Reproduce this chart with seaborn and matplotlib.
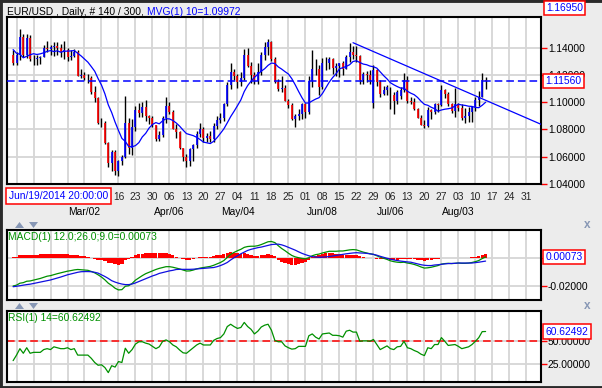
import numpy as np
import pandas as pd
import seaborn as sns
import matplotlib
matplotlib.use("Agg")
from matplotlib import pyplot as plt
from matplotlib import transforms
from matplotlib.patches import Polygon
from matplotlib.ticker import FormatStrFormatter

sns.set_style("white")
plt.rcParams['font.family'] = ['Liberation Sans', 'DejaVu Sans']

# ---- data (EUR/USD daily, 140 bars from Jan 30) ----
open_px = [
    1.1345, 1.1290, 1.1345, 1.1480, 1.1345, 1.1475, 1.1315, 1.1320, 1.1325, 1.1335,
    1.1400, 1.1390, 1.1405, 1.1410, 1.1400, 1.1370, 1.1385, 1.1330, 1.1340, 1.1365,
    1.1195, 1.1198, 1.1180, 1.1175, 1.1075, 1.1030, 1.0845, 1.0850, 1.0700, 1.0550,
    1.0630, 1.0495, 1.0565, 1.0595, 1.0850, 1.0660, 1.0820, 1.0940, 1.0920, 1.0965,
    1.0895, 1.0885, 1.0830, 1.0730, 1.0760, 1.0885, 1.0970, 1.0925, 1.0805, 1.0780,
    1.0660, 1.0600, 1.0570, 1.0655, 1.0685, 1.0765, 1.0805, 1.0735, 1.0750, 1.0730,
    1.0825, 1.0870, 1.0885, 1.0985, 1.1125, 1.1225, 1.1195, 1.1145, 1.1180, 1.1345,
    1.1265, 1.1200, 1.1155, 1.1220, 1.1345, 1.1405, 1.1445, 1.1315, 1.1145, 1.1095,
    1.1105, 1.1010, 1.0980, 1.0875, 1.0895, 1.0915, 1.0985, 1.0925, 1.1155, 1.1245,
    1.1240, 1.1110, 1.1290, 1.1285, 1.1320, 1.1250, 1.1265, 1.1285, 1.1245, 1.1335,
    1.1365, 1.1350, 1.1340, 1.1160, 1.1205, 1.1200, 1.0990, 1.1235, 1.1145, 1.1060,
    1.1090, 1.1050, 1.1055, 1.1010, 1.1045, 1.1090, 1.1160, 1.1005, 1.1002, 1.0950,
    1.0885, 1.0835, 1.0825, 1.0940, 1.0930, 1.0985, 1.0980, 1.1090, 1.1060, 1.0985,
    1.0935, 1.0985, 1.0955, 1.0885, 1.0900, 1.0925, 1.0965, 1.1015, 1.1040, 1.1165,
]
high_px = [
    1.1385, 1.1365, 1.1535, 1.1500, 1.1500, 1.1490, 1.1345, 1.1345, 1.1340, 1.1420,
    1.1450, 1.1420, 1.1440, 1.1445, 1.1430, 1.1450, 1.1400, 1.1385, 1.1390, 1.1380,
    1.1240, 1.1225, 1.1210, 1.1190, 1.1115, 1.1040, 1.0880, 1.0860, 1.0710, 1.0650,
    1.0645, 1.0575, 1.0610, 1.1045, 1.0880, 1.0875, 1.0975, 1.0990, 1.1000, 1.1015,
    1.0905, 1.0900, 1.0835, 1.0790, 1.0895, 1.1035, 1.1000, 1.0945, 1.0840, 1.0785,
    1.0665, 1.0615, 1.0665, 1.0690, 1.0790, 1.0850, 1.0815, 1.0775, 1.0785, 1.0845,
    1.0895, 1.0920, 1.0990, 1.1145, 1.1290, 1.1240, 1.1205, 1.1220, 1.1390, 1.1395,
    1.1295, 1.1220, 1.1285, 1.1365, 1.1445, 1.1465, 1.1450, 1.1330, 1.1170, 1.1195,
    1.1125, 1.1020, 1.0990, 1.0910, 1.0950, 1.0990, 1.0995, 1.1195, 1.1380, 1.1315,
    1.1275, 1.1325, 1.1335, 1.1330, 1.1325, 1.1285, 1.1290, 1.1305, 1.1350, 1.1435,
    1.1410, 1.1410, 1.1345, 1.1225, 1.1230, 1.1235, 1.1275, 1.1240, 1.1165, 1.1120,
    1.1125, 1.1110, 1.1075, 1.1090, 1.1110, 1.1215, 1.1195, 1.1035, 1.1030, 1.0960,
    1.0905, 1.0865, 1.0965, 1.0950, 1.0990, 1.0990, 1.1125, 1.1095, 1.1075, 1.0995,
    1.1105, 1.0990, 1.0985, 1.0955, 1.0965, 1.0975, 1.1040, 1.1085, 1.1215, 1.1185,
]
low_px = [
    1.1275, 1.1270, 1.1310, 1.1330, 1.1325, 1.1300, 1.1270, 1.1270, 1.1280, 1.1330,
    1.1370, 1.1350, 1.1340, 1.1350, 1.1335, 1.1315, 1.1300, 1.1310, 1.1330, 1.1190,
    1.1175, 1.1160, 1.1140, 1.1060, 1.1000, 1.0840, 1.0820, 1.0695, 1.0525, 1.0495,
    1.0465, 1.0460, 1.0535, 1.0590, 1.0615, 1.0610, 1.0790, 1.0890, 1.0890, 1.0860,
    1.0840, 1.0815, 1.0715, 1.0715, 1.0745, 1.0850, 1.0910, 1.0800, 1.0735, 1.0655,
    1.0570, 1.0520, 1.0530, 1.0570, 1.0665, 1.0740, 1.0710, 1.0705, 1.0705, 1.0705,
    1.0805, 1.0845, 1.0860, 1.0975, 1.1095, 1.1165, 1.1105, 1.1115, 1.1165, 1.1260,
    1.1140, 1.1135, 1.1130, 1.1200, 1.1310, 1.1345, 1.1305, 1.1140, 1.1080, 1.1075,
    1.1005, 1.0960, 1.0870, 1.0820, 1.0870, 1.0875, 1.0885, 1.0915, 1.1110, 1.1200,
    1.1050, 1.1100, 1.1235, 1.1240, 1.1210, 1.1195, 1.1185, 1.1200, 1.1240, 1.1295,
    1.1320, 1.1295, 1.1135, 1.1135, 1.1145, 1.1135, 1.0955, 1.1120, 1.1035, 1.1050,
    1.1055, 1.0950, 1.0915, 1.0985, 1.1020, 1.1075, 1.0995, 1.0985, 1.0945, 1.0880,
    1.0830, 1.0810, 1.0815, 1.0875, 1.0910, 1.0925, 1.0975, 1.1030, 1.0975, 1.0920,
    1.0890, 1.0935, 1.0870, 1.0850, 1.0855, 1.0855, 1.0935, 1.0975, 1.1035, 1.1095,
]
close_px = [
    1.1290, 1.1345, 1.1480, 1.1345, 1.1475, 1.1315, 1.1320, 1.1325, 1.1335, 1.1400,
    1.1390, 1.1405, 1.1410, 1.1400, 1.1370, 1.1385, 1.1330, 1.1340, 1.1365, 1.1195,
    1.1198, 1.1180, 1.1175, 1.1075, 1.1030, 1.0845, 1.0850, 1.0700, 1.0550, 1.0630,
    1.0495, 1.0565, 1.0595, 1.0850, 1.0660, 1.0820, 1.0940, 1.0920, 1.0965, 1.0895,
    1.0885, 1.0830, 1.0730, 1.0760, 1.0885, 1.0970, 1.0925, 1.0805, 1.0780, 1.0660,
    1.0600, 1.0570, 1.0655, 1.0685, 1.0765, 1.0805, 1.0735, 1.0750, 1.0730, 1.0825,
    1.0870, 1.0885, 1.0985, 1.1125, 1.1225, 1.1195, 1.1145, 1.1180, 1.1345, 1.1265,
    1.1200, 1.1155, 1.1220, 1.1345, 1.1405, 1.1445, 1.1315, 1.1145, 1.1095, 1.1105,
    1.1010, 1.0980, 1.0875, 1.0895, 1.0915, 1.0985, 1.0925, 1.1155, 1.1245, 1.1240,
    1.1110, 1.1290, 1.1285, 1.1320, 1.1250, 1.1265, 1.1285, 1.1245, 1.1335, 1.1365,
    1.1350, 1.1340, 1.1160, 1.1205, 1.1200, 1.1165, 1.1235, 1.1145, 1.1060, 1.1090,
    1.1110, 1.1055, 1.1010, 1.1075, 1.1090, 1.1160, 1.1005, 1.1002, 1.0950, 1.0885,
    1.0835, 1.0825, 1.0940, 1.0930, 1.0985, 1.0980, 1.1090, 1.1060, 1.0985, 1.0935,
    1.0985, 1.0955, 1.0885, 1.0900, 1.0925, 1.0965, 1.1015, 1.1040, 1.1165, 1.1156,
]
# closes of the 9 sessions before the window (feed the 10-bar average)
warmup_close = [1.1620, 1.1545, 1.1610, 1.1365, 1.1205, 1.1240, 1.1380, 1.1290, 1.1320]

macd_line = [
    -0.0200, -0.0194, -0.0180, -0.0176, -0.0166, -0.0164, -0.0158, -0.0152, -0.0146, -0.0138,
    -0.0130, -0.0126, -0.0119, -0.0112, -0.0106, -0.0100, -0.0094, -0.0090, -0.0085, -0.0082,
    -0.0084, -0.0086, -0.0088, -0.0096, -0.0106, -0.0120, -0.0136, -0.0156, -0.0180, -0.0196,
    -0.0216, -0.0228, -0.0226, -0.0202, -0.0198, -0.0182, -0.0158, -0.0142, -0.0126, -0.0112,
    -0.0102, -0.0092, -0.0082, -0.0074, -0.0068, -0.0062, -0.0062, -0.0066, -0.0072, -0.0078,
    -0.0086, -0.0093, -0.0092, -0.0086, -0.0078, -0.0072, -0.0068, -0.0064, -0.0060, -0.0052,
    -0.0042, -0.0032, -0.0018, 0.0004, 0.0026, 0.0040, 0.0052, 0.0062, 0.0076, 0.0082,
    0.0084, 0.0084, 0.0088, 0.0096, 0.0106, 0.0116, 0.0118, 0.0110, 0.0088, 0.0068,
    0.0052, 0.0034, 0.0018, 0.0008, 0.0002, -0.0003, -0.0006, 0.0002, 0.0016, 0.0024,
    0.0028, 0.0036, 0.0042, 0.0048, 0.0048, 0.0048, 0.0050, 0.0050, 0.0054, 0.0058,
    0.0060, 0.0058, 0.0050, 0.0042, 0.0036, 0.0030, 0.0026, 0.0016, 0.0006, -0.0002,
    -0.0010, -0.0020, -0.0026, -0.0030, -0.0032, -0.0030, -0.0036, -0.0040, -0.0046, -0.0054,
    -0.0064, -0.0072, -0.0070, -0.0066, -0.0060, -0.0054, -0.0044, -0.0040, -0.0038, -0.0040,
    -0.0038, -0.0036, -0.0038, -0.0038, -0.0036, -0.0032, -0.0026, -0.0018, -0.0004, 0.00073,
]
signal_line = [
    -0.0205, -0.0202, -0.0198, -0.0194, -0.0190, -0.0187, -0.0182, -0.0177, -0.0172, -0.0167,
    -0.0162, -0.0157, -0.0150, -0.0143, -0.0136, -0.0128, -0.0120, -0.0114, -0.0108, -0.0102,
    -0.0098, -0.0097, -0.0097, -0.0098, -0.0102, -0.0108, -0.0120, -0.0132, -0.0146, -0.0162,
    -0.0172, -0.0180, -0.0186, -0.0190, -0.0190, -0.0186, -0.0178, -0.0168, -0.0158, -0.0148,
    -0.0138, -0.0128, -0.0120, -0.0110, -0.0104, -0.0098, -0.0092, -0.0088, -0.0082, -0.0081,
    -0.0081, -0.0081, -0.0081, -0.0080, -0.0078, -0.0076, -0.0074, -0.0072, -0.0070, -0.0068,
    -0.0062, -0.0054, -0.0044, -0.0032, -0.0014, 0.0002, 0.0016, 0.0030, 0.0042, 0.0054,
    0.0062, 0.0068, 0.0074, 0.0078, 0.0084, 0.0090, 0.0096, 0.0098, 0.0099, 0.0094,
    0.0086, 0.0076, 0.0066, 0.0056, 0.0044, 0.0033, 0.0024, 0.0016, 0.0010, 0.0007,
    0.0005, 0.0006, 0.0008, 0.0010, 0.0014, 0.0018, 0.0022, 0.0026, 0.0030, 0.0033,
    0.0036, 0.0038, 0.0036, 0.0035, 0.0033, 0.0030, 0.0026, 0.0020, 0.0012, 0.0005,
    -0.0002, -0.0008, -0.0014, -0.0018, -0.0022, -0.0025, -0.0028, -0.0030, -0.0036, -0.0042,
    -0.0048, -0.0052, -0.0054, -0.0054, -0.0050, -0.0048, -0.0045, -0.0042, -0.0040, -0.0039,
    -0.0038, -0.0036, -0.0036, -0.0036, -0.0036, -0.0036, -0.0033, -0.0030, -0.0026, -0.00221,
]
rsi_line = [
    29.0, 35.0, 42.0, 37.0, 43.0, 37.0, 38.0, 38.0, 38.0, 41.0,
    42.0, 41.0, 44.0, 43.0, 42.0, 42.0, 43.0, 41.0, 42.0, 35.0,
    35.0, 35.0, 35.0, 31.5, 27.0, 24.0, 24.5, 21.5, 16.0, 23.5,
    22.0, 28.0, 27.0, 42.5, 37.0, 41.0, 47.0, 49.5, 49.5, 48.0,
    47.0, 44.5, 42.0, 44.0, 50.0, 51.5, 49.5, 46.0, 44.0, 40.5,
    37.5, 37.0, 40.0, 43.0, 46.0, 48.0, 46.0, 46.0, 46.0, 51.0,
    53.0, 54.0, 58.0, 66.0, 68.5, 66.0, 64.0, 65.0, 70.5, 66.0,
    63.0, 58.0, 61.0, 65.5, 67.5, 68.5, 62.0, 51.0, 49.5, 49.5,
    45.0, 43.0, 41.5, 42.0, 44.5, 44.5, 44.5, 56.0, 58.0, 54.5,
    52.5, 58.0, 58.5, 59.0, 56.5, 56.5, 56.0, 54.5, 61.0, 62.0,
    60.0, 60.0, 50.0, 50.5, 50.5, 50.0, 52.0, 46.5, 41.0, 43.0,
    45.0, 42.0, 41.0, 44.0, 44.5, 50.0, 43.0, 42.0, 40.0, 38.5,
    36.0, 34.5, 43.0, 42.0, 46.5, 46.5, 54.0, 50.0, 45.5, 46.0,
    46.5, 44.5, 42.0, 43.0, 44.0, 46.5, 50.0, 54.0, 60.5, 60.62492,
]

# user-drawn trend line (bar index, price)
trend_bar = [100.0, 155.3]
trend_px = [1.1437, 1.0837]

# weekly date labels; the first six sit under the cursor-date box and are not shown
week_labels = ["", "", "", "", "", "", "16", "23", "30", "06", "13", "20",
               "27", "04", "11", "18", "25", "01", "08", "15", "22", "29", "06", "13",
               "20", "27", "03", "10", "17", "24", "31"]
month_labels = ["Mar/02", "Apr/06", "May/04", "Jun/08", "Jul/06", "Aug/03"]
month_week = [4, 9, 13, 18, 22, 26]

price_ticks = [1.04, 1.06, 1.08, 1.10, 1.12, 1.14]
macd_ticks = [-0.02, 0.0]
macd_tick_labels = ["-0.02000", ""]   # the zero label is hidden by the value box
rsi_ticks = [25, 50]

# ---- derived series ----
bars = pd.DataFrame({"bar": np.arange(len(close_px)), "open": open_px, "high": high_px,
                     "low": low_px, "close": close_px})
ma10 = pd.Series(warmup_close + close_px).rolling(10).mean().iloc[len(warmup_close):]
bars["ma10"] = ma10.values
bars["macd"] = macd_line
bars["signal"] = signal_line
bars["hist"] = bars["macd"] - bars["signal"]
bars["rsi"] = rsi_line
week_pos = 1 + 5 * np.arange(len(week_labels))
last_close = close_px[-1]

BLUE = "#0000ff"
RED = "#ff0000"
GREEN = "#009000"
GRID = "#d6d6d6"
FS = 7.4

fig = plt.figure(figsize=(6.02, 3.88), dpi=100)
fig.patch.set_facecolor("#ececec")


def px_axes(x0, y0, x1, y1):
    return fig.add_axes([x0 / 602, 1 - y1 / 388, (x1 - x0) / 602, (y1 - y0) / 388])


ax = px_axes(7, 17, 541, 184)
ax_macd = px_axes(7, 230, 541, 300)
ax_rsi = px_axes(7, 311, 541, 382)

for a in (ax, ax_macd, ax_rsi):
    a.set_facecolor("white")
    a.set_xticks(week_pos)
    a.grid(True, color=GRID, lw=1.3)
    a.set_axisbelow(True)
    for s in a.spines.values():
        s.set_color("black")
        s.set_linewidth(1.5)
    a.yaxis.tick_right()
    a.yaxis.set_major_formatter(FormatStrFormatter("%.5f"))
    a.tick_params(axis="y", colors=RED, labelcolor="black", length=4, width=1,
                  labelsize=FS, pad=1)
    a.tick_params(axis="x", length=0, labelbottom=False)

# ---- price panel ----
up = bars[bars["close"] >= bars["open"]]
down = bars[bars["close"] < bars["open"]]
ax.vlines(bars["bar"], bars["low"], bars["high"], color="black", lw=1.0, zorder=3)
ax.vlines(up["bar"], up["open"], up["close"], color=BLUE, lw=1.2, zorder=4)
ax.vlines(down["bar"], down["open"], down["close"], color=RED, lw=1.2, zorder=4)
sns.lineplot(data=bars, x="bar", y="ma10", ax=ax, color=BLUE, lw=0.9, zorder=5)
ax.plot(trend_bar, trend_px, color=BLUE, lw=0.9, zorder=5)
ax.axhline(last_close, color=BLUE, lw=1.1, ls=(0, (5, 2.6)), zorder=5)
ax.set_ylim(1.0398, 1.1626)
ax.set_yticks(price_ticks)
ax.set_xlim(-1.8, 155.3)
ax.set_xlabel("")
ax.set_ylabel("")
ax.tick_params(axis="x", length=2.5, width=1, color="black", labelbottom=True,
               labelsize=FS, pad=3)
ax.set_xticklabels(week_labels)

xform = transforms.blended_transform_factory(ax.transData, ax.transAxes)
for lab, k in zip(month_labels, month_week):
    ax.text(week_pos[k], -0.168, lab, transform=xform, ha="center", va="center",
            fontsize=FS, color="black")

# ---- MACD panel ----
ax_macd.bar(bars["bar"], bars["hist"], width=0.95, color=RED, linewidth=0, zorder=2)
sns.lineplot(data=bars, x="bar", y="macd", ax=ax_macd, color=GREEN, lw=0.9, zorder=3)
sns.lineplot(data=bars, x="bar", y="signal", ax=ax_macd, color="#1010e0", lw=0.9, zorder=3)
ax_macd.set_ylim(-0.03, 0.02)
ax_macd.set_yticks(macd_ticks)
ax_macd.set_yticklabels(macd_tick_labels)
ax_macd.set_xlim(-1.8, 155.3)
ax_macd.set_xlabel("")
ax_macd.set_ylabel("")

# ---- RSI panel ----
sns.lineplot(data=bars, x="bar", y="rsi", ax=ax_rsi, color=GREEN, lw=0.9, zorder=3)
ax_rsi.axhline(50, color=RED, lw=1.1, ls=(0, (5, 2.6)), zorder=2)
ax_rsi.set_ylim(5.8, 82.9)
ax_rsi.set_yticks(rsi_ticks)
ax_rsi.set_xlim(-1.8, 155.3)
ax_rsi.set_xlabel("")
ax_rsi.set_ylabel("")


# ---- value boxes on the right axis ----
def value_box(a, y, txt):
    tr = transforms.blended_transform_factory(a.transAxes, a.transData)
    a.text(1.0085, y, txt, transform=tr, ha="left", va="center", fontsize=FS,
           color=BLUE, zorder=10, clip_on=False,
           bbox=dict(boxstyle="square,pad=0.22", fc="white", ec=RED, lw=1.1))


value_box(ax, last_close, "1.11560")
value_box(ax_macd, macd_line[-1], "0.00073")
value_box(ax_rsi, rsi_line[-1], "60.62492")
fig.text(546 / 602, 1 - 8 / 388, "1.16950", ha="left", va="center", fontsize=FS,
         color=BLUE, bbox=dict(boxstyle="square,pad=0.22", fc="white", ec=RED, lw=1.1))


# ---- multi-coloured header texts ----
def chain_text(x, y, parts):
    t = fig.text(x, y, parts[0][0], color=parts[0][1], fontsize=FS, ha="left", va="bottom",
                 zorder=10)
    for s, c in parts[1:]:
        t = ax.annotate(s, xy=(1, 0), xycoords=t, ha="left", va="bottom", color=c,
                        fontsize=FS, annotation_clip=False, zorder=10)


chain_text(7 / 602, 1 - 17 / 388, [("EUR/USD , Daily, # 140 / 300, ", "black"),
                                  ("MVG(1) 10=1.09972", BLUE)])
chain_text(8 / 602, 1 - 242 / 388, [("MACD(1) 12.0;26.0;9.0=0.00073", GREEN),
                                    ("/-0.00221", BLUE), ("/0.00295", RED)])
chain_text(8 / 602, 1 - 323 / 388, [("RSI(1) 14=60.62492", GREEN)])

# cursor date box over the first labels
fig.text(9 / 602, 1 - 196 / 388, "Jun/19/2014 20:00:00", ha="left", va="center",
         fontsize=FS, color=BLUE,
         bbox=dict(boxstyle="square,pad=0.25", fc="white", ec=RED, lw=1.1))

# panel arrows and close marks
ICON = "#8797b5"
for yc in (225, 306):
    for x0, pts in ((15, [(0, 3), (4.5, -3), (9, 3)]), (29, [(0, -3), (4.5, 3), (9, -3)])):
        poly = [((x0 + dx) / 602, 1 - (yc + dy) / 388) for dx, dy in pts]
        fig.add_artist(Polygon(poly, closed=True, fc=ICON, ec="none",
                               transform=fig.transFigure))
    fig.text(587 / 602, 1 - yc / 388, "x", ha="center", va="center", fontsize=8.5,
             fontweight="bold", color=ICON)

# window frame on left / top / bottom
for xs, ys in (([0, 0], [0, 1]), ([0, 1], [1, 1]), ([0, 1], [0, 0])):
    fig.add_artist(plt.Line2D(xs, ys, transform=fig.transFigure, color="#2a2a2a", lw=3.5))

plt.savefig("out.png", dpi=100, facecolor=fig.get_facecolor())
plt.close()
